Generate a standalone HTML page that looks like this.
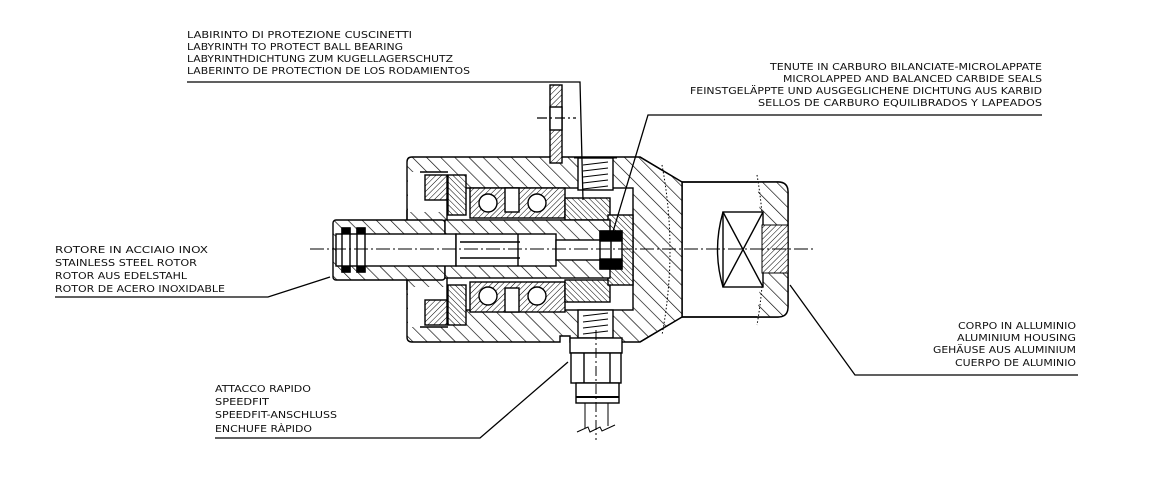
<!DOCTYPE html>
<html><head><meta charset="utf-8"><style>
html,body{margin:0;padding:0;background:#fff;}
svg{display:block;}
text{font-family:"DejaVu Sans","Liberation Sans",sans-serif;font-size:9.6px;fill:#111;}
</style></head><body>
<svg width="1156" height="477" viewBox="0 0 1156 477" xmlns="http://www.w3.org/2000/svg">
<defs>
<pattern id="h" width="10" height="10" patternUnits="userSpaceOnUse" patternTransform="rotate(-45)">
<rect width="10" height="10" fill="#fff"/><line x1="0" y1="0" x2="0" y2="10" stroke="#000" stroke-width="1.3"/></pattern>
<pattern id="h2" width="4" height="4" patternUnits="userSpaceOnUse" patternTransform="rotate(45)">
<rect width="4" height="4" fill="#fff"/><line x1="0" y1="0" x2="0" y2="4" stroke="#000" stroke-width="1"/></pattern>
<pattern id="h3" width="4" height="4" patternUnits="userSpaceOnUse" patternTransform="rotate(-45)">
<rect width="4" height="4" fill="#fff"/><line x1="0" y1="0" x2="0" y2="4" stroke="#000" stroke-width="1"/></pattern>
</defs>
<g stroke="#000" stroke-width="1.4" fill="none">
<path d="M412,157 H640 L682,182 V317 L640,342 H570 V336 H560 V342 H412 Q407,342 407,337 V162 Q407,157 412,157 Z" fill="url(#h)"/>
<rect x="408" y="172" width="40" height="40" fill="#fff" stroke="none"/>
<rect x="408" y="287" width="40" height="40" fill="#fff" stroke="none"/>
<path d="M420,172 H448 M420,327 H448 M407,210 V290"/>
<rect x="447" y="188" width="186" height="122" fill="#fff"/>
<path d="M682,182 H778 Q788,182 788,192 V307 Q788,317 778,317 H682 Z" fill="#fff"/>
<path d="M757,182 H778 Q788,182 788,192 V307 Q788,317 778,317 H757 Q765,250 757,182 Z" fill="url(#h)" stroke="none"/>
<path d="M682,182 H778 Q788,182 788,192 V307 Q788,317 778,317 H682 Z"/>
<path d="M640,160 L682,182 V317 L640,340 L650,330 Q668,250 650,168 Z" fill="url(#h)" stroke="none"/>
<path d="M640,157 L682,182 V317 L640,342"/>
<path d="M662,165 Q678,250 662,335 M757,175 Q770,250 757,325" stroke-dasharray="1.5,2" stroke-width="1"/>
<rect x="723" y="212" width="40" height="75" fill="#fff"/>
<path d="M723,212 Q712,250 723,287 M723,212 L763,287 M763,212 L723,287"/>
<rect x="762" y="225" width="26" height="48" fill="url(#h2)" stroke-width="1"/>
<rect x="425" y="175" width="22" height="25" fill="url(#h2)"/>
<rect x="425" y="300" width="22" height="25" fill="url(#h2)"/>
<rect x="448" y="175" width="18" height="40" fill="url(#h3)"/>
<rect x="448" y="285" width="18" height="40" fill="url(#h3)"/>
<rect x="470" y="188" width="95" height="30" fill="url(#h2)"/>
<rect x="470" y="282" width="95" height="30" fill="url(#h2)"/>
<circle cx="488" cy="203" r="9" fill="#fff"/><circle cx="537" cy="203" r="9" fill="#fff"/>
<circle cx="488" cy="296" r="9" fill="#fff"/><circle cx="537" cy="296" r="9" fill="#fff"/>
<rect x="505" y="188" width="14" height="24" fill="#fff"/><rect x="505" y="288" width="14" height="24" fill="#fff"/>
<rect x="565" y="198" width="45" height="22" fill="url(#h3)"/>
<rect x="565" y="280" width="45" height="22" fill="url(#h3)"/>
<rect x="608" y="215" width="25" height="70" fill="url(#h3)"/>
<rect x="333" y="220" width="112" height="60" rx="3" fill="url(#h)"/>
<rect x="445" y="220" width="165" height="58" fill="url(#h)"/>
<rect x="336" y="234" width="120" height="32" fill="#fff"/>
<rect x="456" y="234" width="100" height="32" fill="#fff"/>
<rect x="556" y="240" width="45" height="20" fill="#fff"/>
<path d="M460,242 H520 M460,258 H520 M518,234 V266"/>
<rect x="342" y="228" width="8" height="44" fill="#fff"/><rect x="357" y="228" width="8" height="44" fill="#fff"/>
<rect x="342" y="228" width="8" height="6" fill="#000"/><rect x="342" y="266" width="8" height="6" fill="#000"/>
<rect x="357" y="228" width="8" height="6" fill="#000"/><rect x="357" y="266" width="8" height="6" fill="#000"/>
<rect x="600" y="231" width="22" height="38" fill="#fff"/>
<rect x="600" y="231" width="22" height="10" fill="#000"/><rect x="600" y="259" width="22" height="10" fill="#000"/>
<path d="M611,231 V269"/>
<rect x="550" y="85" width="12" height="78" fill="url(#h2)"/>
<rect x="550" y="107" width="12" height="23" fill="#fff"/>
<rect x="578" y="158" width="35" height="32" fill="#fff"/>
<path d="M574,158 H617 M583,165 L608,162 M583,171 L608,168 M583,177 L608,174 M583,183 L608,180 M583,189 L608,186" stroke-width="1"/>
<rect x="578" y="310" width="35" height="28" fill="#fff"/>
<path d="M583,316 L608,313 M583,322 L608,319 M583,328 L608,325 M583,334 L608,331" stroke-width="1"/>
<rect x="570" y="338" width="52" height="15" fill="#fff"/>
<rect x="571" y="353" width="50" height="30" fill="#fff"/>
<path d="M584,353 V383 M610,353 V383"/>
<rect x="576" y="383" width="43" height="20" fill="#fff"/>
<path d="M576,397 H619" stroke-width="2"/>
<path d="M585,403 V428 M608,403 V426 M577,432 L588,427 L590,432 L600,427 L602,431 L615,425" stroke-width="1"/>
<path d="M310,249 H815" stroke-width="1" stroke-dasharray="14,3,2,3"/>
<path d="M596,330 V440" stroke-width="1" stroke-dasharray="10,3,2,3"/>
<path d="M537,118 H576" stroke-width="1.2" stroke-dasharray="10,3,2,3"/>
</g>
<g stroke="#000" stroke-width="1.3" fill="none">
<path d="M187,82 H580 L583,200"/>
<path d="M1042,115 H648 L612,235"/>
<path d="M55,297 H268 L330,277"/>
<path d="M215,438 H480 L568,362"/>
<path d="M1078,375 H855 L790,285"/>
</g>
<g>
<text x="187" y="38" textLength="225" lengthAdjust="spacingAndGlyphs">LABIRINTO DI PROTEZIONE CUSCINETTI</text>
<text x="187" y="50" textLength="216" lengthAdjust="spacingAndGlyphs">LABYRINTH TO PROTECT BALL BEARING</text>
<text x="187" y="62" textLength="266" lengthAdjust="spacingAndGlyphs">LABYRINTHDICHTUNG ZUM KUGELLAGERSCHUTZ</text>
<text x="187" y="74" textLength="283" lengthAdjust="spacingAndGlyphs">LABERINTO DE PROTECTION DE LOS RODAMIENTOS</text>
<text x="770" y="70" textLength="272" lengthAdjust="spacingAndGlyphs">TENUTE IN CARBURO BILANCIATE-MICROLAPPATE</text>
<text x="783" y="82" textLength="259" lengthAdjust="spacingAndGlyphs">MICROLAPPED AND BALANCED CARBIDE SEALS</text>
<text x="690" y="94" textLength="352" lengthAdjust="spacingAndGlyphs">FEINSTGELÄPPTE UND AUSGEGLICHENE DICHTUNG AUS KARBID</text>
<text x="758" y="106" textLength="284" lengthAdjust="spacingAndGlyphs">SELLOS DE CARBURO EQUILIBRADOS Y LAPEADOS</text>
<text x="55" y="253" textLength="153" lengthAdjust="spacingAndGlyphs">ROTORE IN ACCIAIO INOX</text>
<text x="55" y="266" textLength="142" lengthAdjust="spacingAndGlyphs">STAINLESS STEEL ROTOR</text>
<text x="55" y="279" textLength="132" lengthAdjust="spacingAndGlyphs">ROTOR AUS EDELSTAHL</text>
<text x="55" y="292" textLength="170" lengthAdjust="spacingAndGlyphs">ROTOR DE ACERO INOXIDABLE</text>
<text x="215" y="392" textLength="96" lengthAdjust="spacingAndGlyphs">ATTACCO RAPIDO</text>
<text x="215" y="405" textLength="54" lengthAdjust="spacingAndGlyphs">SPEEDFIT</text>
<text x="215" y="418" textLength="122" lengthAdjust="spacingAndGlyphs">SPEEDFIT-ANSCHLUSS</text>
<text x="215" y="432" textLength="97" lengthAdjust="spacingAndGlyphs">ENCHUFE RÀPIDO</text>
<text x="958" y="329" textLength="118" lengthAdjust="spacingAndGlyphs">CORPO IN ALLUMINIO</text>
<text x="957" y="341" textLength="119" lengthAdjust="spacingAndGlyphs">ALUMINIUM HOUSING</text>
<text x="933" y="353" textLength="143" lengthAdjust="spacingAndGlyphs">GEHÄUSE AUS ALUMINIUM</text>
<text x="955" y="366" textLength="121" lengthAdjust="spacingAndGlyphs">CUERPO DE ALUMINIO</text>
</g>
</svg>
</body></html>
